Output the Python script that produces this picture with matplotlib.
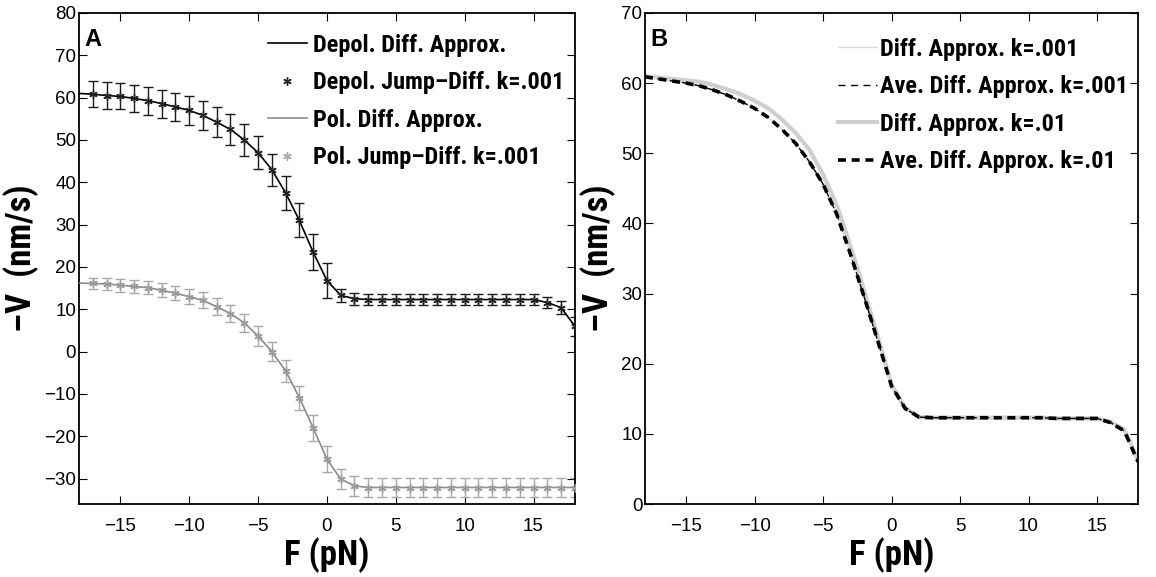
import os
from matplotlib import pyplot as plt
from matplotlib import font_manager
from matplotlib.lines import Line2D

plt.rcParams['font.family'] = ['Liberation Sans', 'DejaVu Sans']

# force (pN)
F = list(range(-18, 19))

# panel A: depolymerisation
depol_line = [61.0, 60.8, 60.5, 60.3, 59.8, 59.3, 58.6, 57.8, 57.0, 55.8, 54.2, 52.5, 50.0,
              47.0, 43.0, 37.5, 31.0, 23.5, 16.8, 13.3, 12.5, 12.3, 12.3, 12.3, 12.3, 12.3,
              12.3, 12.3, 12.3, 12.3, 12.3, 12.3, 12.3, 12.3, 11.6, 10.4, 6.0]
depol_err = [3.1, 3.1, 3.1, 3.1, 3.2, 3.3, 3.3, 3.4, 3.5, 3.5, 3.6, 3.6, 3.8, 3.9, 3.8,
             4.0, 4.0, 4.2, 4.2, 1.6, 1.4, 1.2, 1.2, 1.2, 1.2, 1.2, 1.2, 1.2, 1.2, 1.2,
             1.2, 1.2, 1.2, 1.2, 1.3, 1.6, 2.2]

# panel A: polymerisation
pol_line = [16.2, 16.1, 16.0, 15.7, 15.4, 15.1, 14.5, 13.8, 13.0, 12.1, 10.6, 9.0, 6.8,
            3.7, 0.0, -4.5, -10.9, -18.0, -25.4, -30.1, -31.7, -32.1, -32.1, -32.1, -32.1,
            -32.1, -32.1, -32.1, -32.1, -32.1, -32.1, -32.1, -32.1, -32.1, -32.1, -32.1, -32.1]
pol_err = [1.4, 1.4, 1.4, 1.5, 1.5, 1.6, 1.6, 1.7, 1.8, 1.9, 2.0, 2.1, 2.2, 2.3, 2.3,
           2.6, 2.8, 3.1, 3.1, 2.4, 2.4, 2.3, 2.3, 2.3, 2.3, 2.3, 2.3, 2.3, 2.3, 2.3,
           2.3, 2.3, 2.3, 2.3, 2.3, 2.3, 2.3]

# panel B
diff_k001 = [60.9, 60.6, 60.3, 60.0, 59.6, 59.0, 58.3, 57.4, 56.4, 55.1, 53.4, 51.4, 48.8,
             45.6, 41.3, 35.6, 29.5, 23.2, 16.8, 13.6, 12.4, 12.3, 12.3, 12.3, 12.3, 12.3,
             12.3, 12.3, 12.3, 12.3, 12.2, 12.2, 12.2, 12.2, 11.6, 10.4, 6.0]
ave_k001 = diff_k001
diff_k01 = [61.0, 60.8, 60.6, 60.4, 60.2, 59.7, 59.1, 58.4, 57.5, 56.4, 54.8, 52.9, 50.5,
            47.0, 42.6, 36.8, 30.4, 23.8, 17.0, 13.7, 12.4, 12.3, 12.3, 12.3, 12.3, 12.3,
            12.3, 12.3, 12.3, 12.3, 12.2, 12.2, 12.2, 12.2, 11.7, 10.6, 6.2]
ave_k01 = diff_k001

asterisk = (6, 2, 0)

# 找一个窄体粗体字 (Helvetica Narrow 的替代)
narrow_files = ['LiberationSansNarrow-Bold.ttf', 'RobotoCondensed-Bold.ttf',
                'NotoSans-CondensedBold.ttf', 'OpenSans-CondensedBold.ttf',
                'Roboto-CondensedBold.ttf']
narrow = None
paths = {os.path.basename(f.fname): f.fname for f in font_manager.fontManager.ttflist}
for name in narrow_files:
    if name in paths:
        narrow = paths[name]
        break

if narrow:
    def bold_font(size):
        return font_manager.FontProperties(fname=narrow, size=size)
    legend_size, label_size = 17.5, 25
else:
    def bold_font(size):
        return font_manager.FontProperties(family='Liberation Sans', weight='bold', size=size)
    legend_size, label_size = 15, 20


def style_axes(ax, ylim, yticks):
    ax.set_xlim(-18, 18)
    ax.set_ylim(*ylim)
    ax.set_xticks(range(-15, 16, 5))
    ax.set_yticks(yticks)
    ax.tick_params(direction='in', top=True, right=True, length=6, width=0.8, labelsize=13.5)
    ax.tick_params(axis='x', pad=10)
    ax.tick_params(axis='y', pad=2)
    for s in ax.spines.values():
        s.set_linewidth(1.3)
    ax.set_xlabel('F (pN)', fontproperties=bold_font(label_size), labelpad=2)
    ax.set_ylabel('\u2013V  (nm/s)', fontproperties=bold_font(label_size), labelpad=4)


fig = plt.figure(figsize=(11.56, 5.77), dpi=100)
axA = fig.add_axes([0.0683, 0.1265, 0.429, 0.851])
axB = fig.add_axes([0.558, 0.1265, 0.4265, 0.851])

# panel A
axA.plot(F, depol_line, color='black', lw=1.2, zorder=3)
axA.errorbar(F[1:], depol_line[1:], yerr=depol_err[1:], fmt='none', ecolor='#1a1a1a',
             elinewidth=1.0, capsize=3.5, capthick=1.0, zorder=2)
axA.plot(F[1:], depol_line[1:], ls='none', marker=asterisk, ms=6, mew=1.0, color='#222222', zorder=4)

axA.plot(F, pol_line, color='#8c8c8c', lw=1.2, zorder=3)
axA.errorbar(F[1:], pol_line[1:], yerr=pol_err[1:], fmt='none', ecolor='#a8a8a8',
             elinewidth=1.0, capsize=3.5, capthick=1.0, zorder=2)
axA.plot(F[1:], pol_line[1:], ls='none', marker=asterisk, ms=6, mew=1.0, color='#9a9a9a', zorder=4)

style_axes(axA, (-36, 80), range(-30, 81, 10))
axA.text(0.011, 0.97, 'A', transform=axA.transAxes, fontsize=17, fontweight='bold', va='top')

hA = [Line2D([], [], color='black', lw=1.2),
      Line2D([], [], ls='none', marker=asterisk, ms=6, mew=1.0, color='#222222'),
      Line2D([], [], color='#8c8c8c', lw=1.2),
      Line2D([], [], ls='none', marker=asterisk, ms=6, mew=1.0, color='#a8a8a8')]
axA.legend(hA, ['Depol. Diff. Approx.', 'Depol. Jump\u2013Diff. k=.001',
                'Pol. Diff. Approx.', 'Pol. Jump\u2013Diff. k=.001'],
           loc='upper left', bbox_to_anchor=(0.381, 0.958), frameon=False,
           borderpad=0, borderaxespad=0, handlelength=1.6, handletextpad=0.25,
           labelspacing=0.6, prop=bold_font(legend_size))

# panel B
axB.plot(F, diff_k01, color='#cfcfcf', lw=3.0, zorder=2)
axB.plot(F, diff_k001, color='#d9d9d9', lw=1.0, zorder=3)
axB.plot(F, ave_k01, color='black', lw=2.6, ls=(0, (2.2, 1.6)), zorder=4)
axB.plot(F, ave_k001, color='black', lw=1.0, ls=(0, (5, 4)), zorder=5)

style_axes(axB, (0, 70), range(0, 71, 10))
axB.text(0.011, 0.97, 'B', transform=axB.transAxes, fontsize=17, fontweight='bold', va='top')

hB = [Line2D([], [], color='#d9d9d9', lw=1.0),
      Line2D([], [], color='black', lw=1.0, ls=(0, (5, 4))),
      Line2D([], [], color='#cfcfcf', lw=3.0),
      Line2D([], [], color='black', lw=2.6, ls=(0, (2.2, 1.6)))]
axB.legend(hB, ['Diff. Approx. k=.001', 'Ave. Diff. Approx. k=.001',
                'Diff. Approx. k=.01', 'Ave. Diff. Approx. k=.01'],
           loc='upper left', bbox_to_anchor=(0.391, 0.95), frameon=False,
           borderpad=0, borderaxespad=0, handlelength=1.6, handletextpad=0.15,
           labelspacing=0.6, prop=bold_font(legend_size))

fig.savefig('out.png', dpi=100)
